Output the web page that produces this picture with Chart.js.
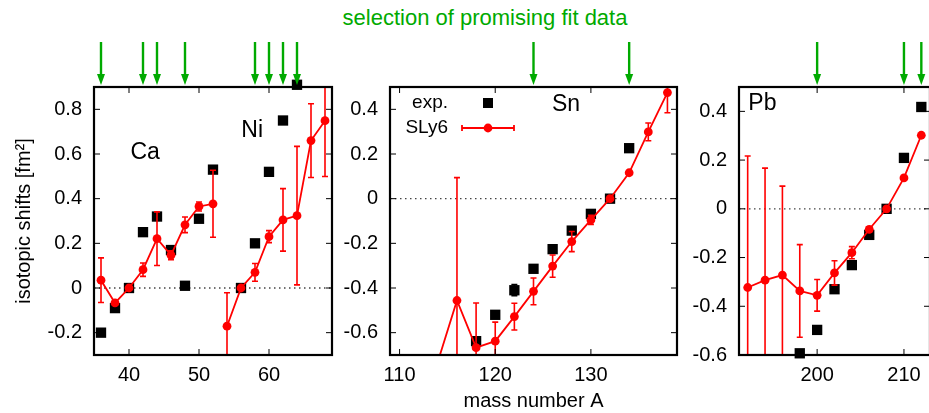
<!DOCTYPE html>
<html>
<head>
<meta charset="utf-8">
<script src="https://cdn.jsdelivr.net/npm/chart.js@4.4.1/dist/chart.umd.min.js"></script>
<style>
  html, body { margin: 0; padding: 0; background: #fff; }
  body { width: 929px; height: 413px; overflow: hidden; position: relative; }
  .panel { position: absolute; top: 0; }
  #title {
    position: absolute; left: 0; top: 5px; width: 970px; text-align: center;
    font-family: 'Liberation Sans', Arial, sans-serif; font-size: 22px; color: #00aa00;
  }
</style>
</head>
<body>
<div id="title">selection of promising fit data</div>
<canvas id="chartCaNi" class="panel" width="345" height="413" style="left:0px"></canvas>
<canvas id="chartSn" class="panel" width="355" height="413" style="left:335px"></canvas>
<canvas id="chartPb" class="panel" width="260" height="413" style="left:690px"></canvas>
<script>
// Ca
const caExpA = [36, 38, 40, 42, 44, 46, 48, 50, 52];
const caExp = [-0.20, -0.09, 0, 0.25, 0.32, 0.17, 0.01, 0.31, 0.53];
const caModelA = [36, 38, 40, 42, 44, 46, 48, 50, 52];
const caSly6 = [0.035, -0.067, 0, 0.082, 0.221, 0.147, 0.283, 0.365, 0.377];
const caErr = [0.10, 0.01, 0, 0.03, 0.12, 0.02, 0.035, 0.02, 0.15];

// Ni
const niExpA = [56, 58, 60, 62, 64];
const niExp = [0, 0.20, 0.52, 0.75, 0.91];
const niModelA = [54, 56, 58, 60, 62, 64, 66, 68];
const niSly6 = [-0.171, 0, 0.07, 0.23, 0.305, 0.324, 0.66, 0.749];
const niErr = [0.15, 0, 0.04, 0.027, 0.14, 0.31, 0.165, 0.25];

// Sn
const snExpA = [118, 120, 122, 124, 126, 128, 130, 132, 134];
const snExp = [-0.638, -0.52, -0.41, -0.314, -0.226, -0.143, -0.068, 0, 0.226];
const snExpErr = [0, 0, 0.025, 0, 0, 0, 0, 0, 0];
const snModelA = [114, 116, 118, 120, 122, 124, 126, 128, 130, 132, 134, 136, 138];
const snSly6 = [-0.73, -0.456, -0.667, -0.638, -0.528, -0.415, -0.302, -0.192, -0.095, 0, 0.116, 0.299, 0.475];
const snErr = [0, 0.55, 0.2, 0.085, 0.06, 0.06, 0.05, 0.045, 0.02, 0, 0.01, 0.04, 0.09];

// Pb
const pbExpA = [198, 200, 202, 204, 206, 208, 210, 212];
const pbExp = [-0.593, -0.497, -0.33, -0.231, -0.107, 0, 0.209, 0.418];
const pbModelA = [192, 194, 196, 198, 200, 202, 204, 206, 208, 210, 212];
const pbSly6 = [-0.323, -0.293, -0.272, -0.337, -0.355, -0.263, -0.18, -0.084, 0, 0.127, 0.302];
const pbErr = [0.54, 0.46, 0.365, 0.19, 0.065, 0.05, 0.025, 0.01, 0, 0, 0];

// selected fit data (arrows on top)
const caNiArrows = [36, 42, 44, 48, 58, 60, 62, 64];
const snArrows = [124, 134];
const pbArrows = [200, 210, 212];

// tick labels
const caNiXTicks = [40, 50, 60];
const caNiYTicks = [-0.2, 0, 0.2, 0.4, 0.6, 0.8];
const snXTicks = [110, 120, 130];
const snYTicks = [-0.6, -0.4, -0.2, 0, 0.2, 0.4];
const pbXTicks = [200, 210];
const pbYTicks = [-0.6, -0.4, -0.2, 0, 0.2, 0.4];

const RED = '#ff0000';
const GREEN = '#00aa00';
const FONT = "'Liberation Sans', Arial, sans-serif";

Chart.defaults.font.family = FONT;
Chart.defaults.font.size = 20;
Chart.defaults.color = '#000';

function pts(xs, ys) {
    return xs.map((x, i) => ({ x: x, y: ys[i] }));
}

function expSet(label, xs, ys, errs) {
    return {
        label: label, data: pts(xs, ys), errors: errs || null, errColor: '#000',
        showLine: false, pointStyle: 'rect', pointRadius: 7.3, pointHoverRadius: 7.3,
        backgroundColor: '#000', borderColor: '#000', borderWidth: 0,
        clip: false, order: 2
    };
}

function modelSet(label, xs, ys, errs) {
    return {
        label: label, data: pts(xs, ys), errors: errs, errColor: RED,
        showLine: true, borderColor: RED, borderWidth: 1.8, backgroundColor: RED,
        pointStyle: 'circle', pointRadius: 4.4, pointHoverRadius: 4.4, pointBorderWidth: 0,
        tension: 0, order: 1
    };
}

// frame, inward ticks, zero line, error bars, arrows, labels, legend
const panelDecor = {
    id: 'panelDecor',
    beforeDatasetsDraw(chart) {
        const { ctx, chartArea: a, scales: { y } } = chart;
        const y0 = y.getPixelForValue(0);
        ctx.save();
        ctx.strokeStyle = '#444';
        ctx.lineWidth = 1.3;
        ctx.setLineDash([1.5, 3.5]);
        ctx.beginPath();
        ctx.moveTo(a.left, y0);
        ctx.lineTo(a.right, y0);
        ctx.stroke();
        ctx.restore();
    },
    afterDatasetsDraw(chart) {
        const { ctx, chartArea: a, scales: { x, y } } = chart;
        ctx.save();
        ctx.beginPath();
        ctx.rect(a.left, a.top, a.right - a.left, a.bottom - a.top);
        ctx.clip();
        chart.data.datasets.forEach(ds => {
            if (!ds.errors) return;
            ctx.strokeStyle = ds.errColor;
            ctx.lineWidth = 1.6;
            ds.data.forEach((p, i) => {
                const e = ds.errors[i];
                if (!e) return;
                const px = x.getPixelForValue(p.x);
                const yt = y.getPixelForValue(p.y + e);
                const yb = y.getPixelForValue(p.y - e);
                ctx.beginPath();
                ctx.moveTo(px, yt); ctx.lineTo(px, yb);
                ctx.moveTo(px - 3, yt); ctx.lineTo(px + 3, yt);
                ctx.moveTo(px - 3, yb); ctx.lineTo(px + 3, yb);
                ctx.stroke();
            });
        });
        ctx.restore();
    },
    afterDraw(chart, args, opts) {
        const { ctx, chartArea: a, scales: { x, y } } = chart;
        ctx.save();
        // inward ticks on all four sides
        ctx.strokeStyle = '#000';
        ctx.lineWidth = 1;
        ctx.beginPath();
        x.ticks.forEach(t => {
            const px = x.getPixelForValue(t.value);
            ctx.moveTo(px, a.bottom); ctx.lineTo(px, a.bottom - 6);
            ctx.moveTo(px, a.top); ctx.lineTo(px, a.top + 6);
        });
        y.ticks.forEach(t => {
            const py = y.getPixelForValue(t.value);
            ctx.moveTo(a.left, py); ctx.lineTo(a.left + 6, py);
            ctx.moveTo(a.right, py); ctx.lineTo(a.right - 6, py);
        });
        ctx.stroke();
        // frame
        ctx.lineWidth = 2.2;
        ctx.strokeRect(a.left, a.top, a.right - a.left, a.bottom - a.top);

        // arrows marking the selected isotopes
        ctx.strokeStyle = GREEN;
        ctx.fillStyle = GREEN;
        (opts.arrows || []).forEach(v => {
            const px = x.getPixelForValue(v);
            ctx.lineWidth = 2.4;
            ctx.beginPath();
            ctx.moveTo(px, 42); ctx.lineTo(px, 76);
            ctx.stroke();
            ctx.beginPath();
            ctx.moveTo(px - 4, 74); ctx.lineTo(px + 4, 74); ctx.lineTo(px, 85);
            ctx.closePath();
            ctx.fill();
        });

        // element names
        ctx.fillStyle = '#000';
        ctx.font = '23px ' + FONT;
        ctx.textAlign = 'center';
        ctx.textBaseline = 'middle';
        (opts.labels || []).forEach(l => {
            ctx.fillText(l.text, x.getPixelForValue(l.x), y.getPixelForValue(l.y));
        });

        // key
        if (opts.legend) {
            const ds = chart.data.datasets;
            const tx = a.left + 58, sx = a.left + 98;
            const y1 = a.top + 16, y2 = a.top + 41;
            ctx.font = '19px ' + FONT;
            ctx.textAlign = 'right';
            ctx.fillText(ds[0].label, tx, y1);
            ctx.fillText(ds[1].label, tx, y2);
            ctx.fillStyle = '#000';
            ctx.fillRect(sx - 5, y1 - 5, 10, 10);
            ctx.strokeStyle = RED;
            ctx.fillStyle = RED;
            ctx.lineWidth = 1.8;
            ctx.beginPath();
            ctx.moveTo(sx - 26, y2); ctx.lineTo(sx + 26, y2);
            ctx.moveTo(sx - 26, y2 - 3); ctx.lineTo(sx - 26, y2 + 3);
            ctx.moveTo(sx + 26, y2 - 3); ctx.lineTo(sx + 26, y2 + 3);
            ctx.stroke();
            ctx.beginPath();
            ctx.arc(sx, y2, 4.4, 0, Math.PI * 2);
            ctx.fill();
        }
        ctx.restore();
    }
};

function makePanel(id, cfg) {
    const ctx = document.getElementById(id).getContext('2d');
    return new Chart(ctx, {
        type: 'scatter',
        data: { datasets: cfg.datasets },
        options: {
            responsive: false,
            animation: false,
            devicePixelRatio: 1,
            layout: { padding: { top: 87, right: cfg.padRight, left: 0, bottom: 0 } },
            plugins: {
                legend: { display: false },
                tooltip: { enabled: false },
                panelDecor: { arrows: cfg.arrows, labels: cfg.labels, legend: cfg.legend }
            },
            scales: {
                x: {
                    type: 'linear', min: cfg.xMin, max: cfg.xMax,
                    grid: { display: false, drawTicks: false },
                    border: { display: false },
                    afterBuildTicks: s => { s.ticks = cfg.xTicks.map(v => ({ value: v })); },
                    afterFit: s => { s.height = 58; },
                    ticks: { padding: 8, callback: v => String(v) },
                    title: {
                        display: !!cfg.xTitle, text: cfg.xTitle || '',
                        padding: { top: 0, bottom: 0 }, font: { size: 20 }
                    }
                },
                y: {
                    type: 'linear', min: cfg.yMin, max: cfg.yMax,
                    grid: { display: false, drawTicks: false },
                    border: { display: false },
                    afterBuildTicks: s => { s.ticks = cfg.yTicks.map(v => ({ value: v })); },
                    afterFit: s => { s.width = cfg.yWidth; },
                    ticks: { padding: 12, callback: v => String(v) },
                    title: {
                        display: !!cfg.yTitle, text: cfg.yTitle || '',
                        padding: { top: 12, bottom: 0 }, font: { size: 20 }
                    }
                }
            }
        },
        plugins: [panelDecor]
    });
}

makePanel('chartCaNi', {
    datasets: [
        expSet('exp.', caExpA, caExp),
        expSet('exp.', niExpA, niExp),
        modelSet('SLy6', caModelA, caSly6, caErr),
        modelSet('SLy6', niModelA, niSly6, niErr)
    ],
    xMin: 35, xMax: 69, yMin: -0.3, yMax: 0.9,
    xTicks: caNiXTicks, yTicks: caNiYTicks,
    yWidth: 94, padRight: 13,
    yTitle: 'isotopic shifts [fm²]',
    arrows: caNiArrows,
    labels: [{ text: 'Ca', x: 42.3, y: 0.605 }, { text: 'Ni', x: 57.6, y: 0.705 }]
});

makePanel('chartSn', {
    datasets: [
        expSet('exp.', snExpA, snExp, snExpErr),
        modelSet('SLy6', snModelA, snSly6, snErr)
    ],
    xMin: 109, xMax: 139, yMin: -0.7, yMax: 0.5,
    xTicks: snXTicks, yTicks: snYTicks,
    yWidth: 55, padRight: 13,
    xTitle: 'mass number A',
    arrows: snArrows,
    labels: [{ text: 'Sn', x: 127.4, y: 0.42 }],
    legend: true
});

makePanel('chartPb', {
    datasets: [
        expSet('exp.', pbExpA, pbExp),
        modelSet('SLy6', pbModelA, pbSly6, pbErr)
    ],
    xMin: 191, xMax: 213, yMin: -0.6, yMax: 0.5,
    xTicks: pbXTicks, yTicks: pbYTicks,
    yWidth: 49, padRight: 20,
    arrows: pbArrows,
    labels: [{ text: 'Pb', x: 193.7, y: 0.43 }]
});
</script>
</body>
</html>
